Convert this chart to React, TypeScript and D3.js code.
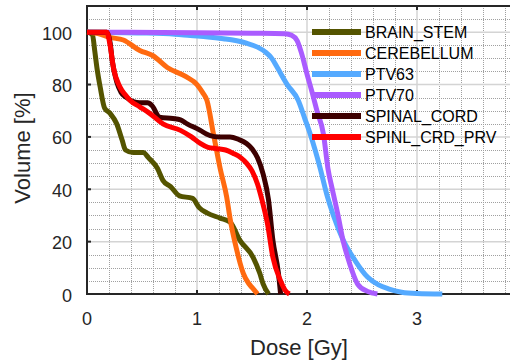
import React, { useEffect, useRef } from "react";
import * as d3 from "d3";

// dose (Gy) / volume (%) pairs
const brainStemDose = [0, 0.05, 0.07, 0.09, 0.12, 0.16, 0.21, 0.27, 0.32, 0.35, 0.42, 0.51, 0.56, 0.64, 0.69, 0.76, 0.84, 0.96, 1.02, 1.09, 1.21, 1.3, 1.39, 1.51, 1.57, 1.6, 1.65];
const brainStemVol = [100, 99, 93, 86.5, 79, 71, 69, 65, 58.7, 55, 54, 54, 52, 48, 43.4, 41, 37.5, 36.5, 33, 31, 29, 27.5, 20.5, 14, 8, 4, 0];

const cerebellumDose = [0, 0.1, 0.21, 0.33, 0.48, 0.6, 0.73, 0.9, 1.0, 1.05, 1.09, 1.15, 1.21, 1.27, 1.3, 1.36, 1.42, 1.47, 1.5, 1.55];
const cerebellumVol = [100, 99.5, 98, 97, 93, 91, 86.5, 83, 80, 77, 74, 61, 48, 37, 29, 17, 8, 4, 2.5, 0];

const ptv63Dose = [0, 0.5, 0.8, 0.94, 1.1, 1.24, 1.35, 1.45, 1.55, 1.62, 1.68, 1.73, 1.82, 1.92, 1.98, 2.03, 2.12, 2.18, 2.24, 2.33, 2.44, 2.55, 2.65, 2.74, 2.86, 3.0, 3.23];
const ptv63Vol = [100, 99.7, 99.2, 98.7, 98.2, 97.5, 96.8, 95.8, 94.3, 92.5, 90, 86.5, 80, 74, 67, 61, 48, 38, 30, 20.5, 12.6, 6.5, 3.5, 2, 0.7, 0.2, 0];

const ptv70Dose = [0, 1.0, 1.5, 1.8, 1.86, 1.91, 1.95, 2.0, 2.05, 2.09, 2.15, 2.19, 2.23, 2.28, 2.33, 2.37, 2.41, 2.46, 2.55, 2.64];
const ptv70Vol = [100, 99.8, 99.6, 99.4, 98.8, 96.8, 92, 84, 76.5, 70, 61, 48, 40, 30.5, 20, 14, 8.8, 3.8, 1, 0];

const spinalCordDose = [0, 0.18, 0.21, 0.23, 0.27, 0.31, 0.36, 0.42, 0.48, 0.55, 0.59, 0.66, 0.78, 0.85, 0.91, 1.03, 1.09, 1.12, 1.2, 1.3, 1.38, 1.45, 1.5, 1.55, 1.6, 1.65, 1.69, 1.74, 1.76];
const spinalCordVol = [100, 100, 96, 89, 81, 77, 75, 73.5, 73, 73, 72, 67.5, 67, 66.5, 65, 62.5, 61, 60.5, 60, 60, 59, 57.5, 55.5, 52, 46, 36, 20.5, 8, 0];

const prvDose = [0, 0.18, 0.21, 0.24, 0.3, 0.35, 0.39, 0.48, 0.57, 0.69, 0.85, 0.95, 1.03, 1.1, 1.18, 1.26, 1.33, 1.4, 1.45, 1.5, 1.55, 1.59, 1.64, 1.69, 1.76, 1.8, 1.84];
const prvVol = [100, 100, 95, 86.5, 79, 76, 74, 71.5, 69, 65, 62.5, 60, 57.5, 56, 55.5, 55, 53.7, 52, 50, 47, 42, 36, 27, 14, 5, 1.5, 0];

const names = ["BRAIN_STEM", "CEREBELLUM", "PTV63", "PTV70", "SPINAL_CORD", "SPINL_CRD_PRV"];
const colors = ["#545400", "#ff6a10", "#55aaff", "#aa5cff", "#3d0000", "#ff0000"];
const doses = [brainStemDose, cerebellumDose, ptv63Dose, ptv70Dose, spinalCordDose, prvDose];
const vols = [brainStemVol, cerebellumVol, ptv63Vol, ptv70Vol, spinalCordVol, prvVol];

const xTicks = [0, 1, 2, 3];
const yTicks = [0, 20, 40, 60, 80, 100];

const App = () => {
  const ref = useRef<SVGSVGElement>(null);

  useEffect(() => {
    const svg = d3.select(ref.current);
    svg.selectAll("*").remove();

    const width = 510;
    const height = 362;
    const left = 87, right = 512, top = 6, bottom = 294;
    const font = "'Liberation Sans', Arial, Helvetica, sans-serif";
    const ink = "#262626";

    const x = d3.scaleLinear().domain([0, (right - left) / 110]).range([left, right]);
    const y = d3.scaleLinear().domain([0, 110]).range([bottom, top]);

    svg.attr("width", width).attr("height", height);

    const g = svg.append("g");

    // minor grid (dotted)
    const xMinor = d3.range(0.2, 3.9, 0.2).filter((d) => Math.abs(d - Math.round(d)) > 0.01);
    const yMinor = d3.range(5, 110, 5).filter((d) => d % 20 !== 0);
    g.selectAll("line.xminor").data(xMinor).enter().append("line")
      .attr("class", "xminor")
      .attr("x1", (d) => Math.round(x(d)) + 0.5).attr("x2", (d) => Math.round(x(d)) + 0.5)
      .attr("y1", top).attr("y2", bottom)
      .attr("stroke", "#a0a0a0").attr("stroke-width", 1).attr("stroke-dasharray", "1,1");
    g.selectAll("line.yminor").data(yMinor).enter().append("line")
      .attr("class", "yminor")
      .attr("x1", left).attr("x2", right)
      .attr("y1", (d) => Math.round(y(d)) + 0.5).attr("y2", (d) => Math.round(y(d)) + 0.5)
      .attr("stroke", "#a0a0a0").attr("stroke-width", 1).attr("stroke-dasharray", "1,1");

    // major grid
    g.selectAll("line.xmajor").data(xTicks.slice(1)).enter().append("line")
      .attr("class", "xmajor")
      .attr("x1", (d) => x(d)).attr("x2", (d) => x(d))
      .attr("y1", top).attr("y2", bottom)
      .attr("stroke", "#d4d4d4").attr("stroke-width", 1.5);
    g.selectAll("line.ymajor").data(yTicks.slice(1)).enter().append("line")
      .attr("class", "ymajor")
      .attr("x1", left).attr("x2", right)
      .attr("y1", (d) => y(d)).attr("y2", (d) => y(d))
      .attr("stroke", "#d4d4d4").attr("stroke-width", 1.5);

    // box
    g.append("rect")
      .attr("x", left).attr("y", top)
      .attr("width", right - left).attr("height", bottom - top)
      .attr("fill", "none").attr("stroke", ink).attr("stroke-width", 2);

    // ticks (inside)
    xTicks.slice(1).forEach((t) => {
      g.append("line").attr("x1", x(t)).attr("x2", x(t)).attr("y1", bottom).attr("y2", bottom - 4)
        .attr("stroke", ink).attr("stroke-width", 2);
      g.append("line").attr("x1", x(t)).attr("x2", x(t)).attr("y1", top).attr("y2", top + 4)
        .attr("stroke", ink).attr("stroke-width", 2);
    });
    yTicks.slice(1).forEach((t) => {
      g.append("line").attr("x1", left).attr("x2", left + 4).attr("y1", y(t)).attr("y2", y(t))
        .attr("stroke", ink).attr("stroke-width", 2);
    });

    // tick labels
    g.selectAll("text.xl").data(xTicks).enter().append("text")
      .attr("class", "xl")
      .attr("x", (d) => x(d)).attr("y", 325)
      .attr("text-anchor", "middle").attr("font-family", font).attr("font-size", 18)
      .attr("fill", ink).text((d) => d);
    g.selectAll("text.yl").data(yTicks).enter().append("text")
      .attr("class", "yl")
      .attr("x", 72).attr("y", (d) => y(d) + 7.5)
      .attr("text-anchor", "end").attr("font-family", font).attr("font-size", 18)
      .attr("fill", ink).text((d) => d);

    // axis labels
    g.append("text").attr("x", 299).attr("y", 355)
      .attr("text-anchor", "middle").attr("font-family", font).attr("font-size", 22)
      .attr("fill", ink).text("Dose [Gy]");
    g.append("text").attr("transform", "translate(30,148) rotate(-90)")
      .attr("text-anchor", "middle").attr("font-family", font).attr("font-size", 22)
      .attr("fill", ink).text("Volume [%]");

    // curves
    const line = d3.line<[number, number]>()
      .x((d) => x(d[0]))
      .y((d) => y(d[1]))
      .curve(d3.curveMonotoneX);

    names.forEach((n, i) => {
      const pts = doses[i].map((d, j) => [d, vols[i][j]] as [number, number]);
      g.append("path")
        .attr("d", line(pts))
        .attr("fill", "none")
        .attr("stroke", colors[i])
        .attr("stroke-width", 5)
        .attr("stroke-linejoin", "round");
    });

    // legend
    const leg = g.append("g");
    names.forEach((n, i) => {
      const ly = 32 + i * 21;
      leg.append("line").attr("x1", 312).attr("x2", 361).attr("y1", ly).attr("y2", ly)
        .attr("stroke", colors[i]).attr("stroke-width", 6);
      leg.append("text").attr("x", 365).attr("y", ly + 6)
        .attr("font-family", font).attr("font-size", 16).attr("fill", "#000")
        .text(n);
    });
  }, []);

  return <svg ref={ref} style={{ position: "absolute", left: 0, top: 0 }}></svg>;
};

export default App;
